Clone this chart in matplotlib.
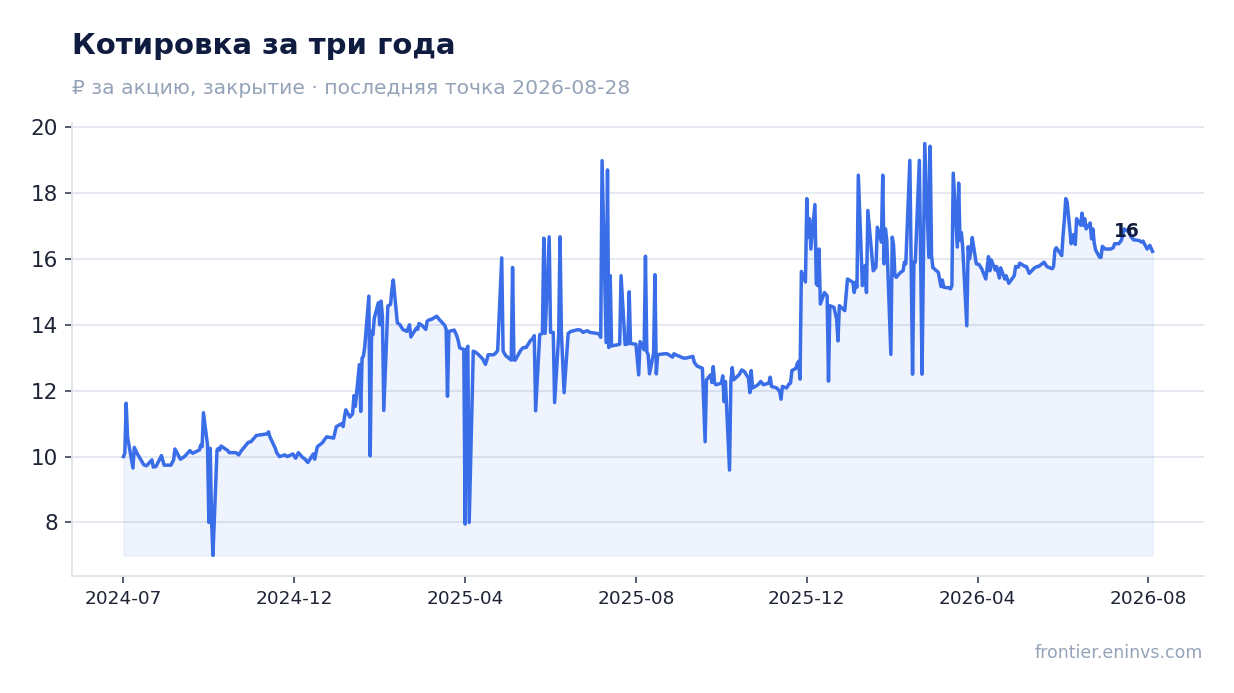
import matplotlib
matplotlib.use("Agg")
import matplotlib.pyplot as plt
import numpy as np
import pandas as pd

# ---- data ---------------------------------------------------------------
LAST_DATE = "2026-08-28"
N_TRADING_DAYS = 544
TICK_EVERY = 90

# trading-day number of each observation (0 = first session in the window)
day_idx = [
    0, 1, 2, 3, 5, 6, 8, 11, 13, 15,
    16, 18, 20, 22, 25, 27, 28, 30, 33, 35,
    37, 40, 41, 42, 43, 44, 45, 46, 47, 48,
    49, 50, 51, 52, 55, 56, 59, 61, 63, 66,
    68, 70, 73, 76, 77, 78, 80, 81, 83, 85,
    87, 89, 91, 93, 94, 96, 98, 100, 101, 103,
    105, 106, 108, 111, 113, 115, 116, 117, 118, 119,
    121, 122, 123, 124, 125, 126, 127, 128, 129, 130,
    131, 132, 133, 134, 135, 136, 137, 138, 139, 141,
    142, 143, 144, 146, 148, 149, 151, 152, 154, 155,
    156, 158, 159, 160, 162, 163, 165, 167, 169, 170,
    171, 172, 174, 176, 177, 178, 179, 180, 181, 182,
    183, 184, 186, 188, 189, 191, 192, 193, 195, 197,
    198, 199, 200, 202, 204, 205, 206, 207, 209, 211,
    213, 214, 216, 217, 218, 219, 221, 222, 223, 224,
    225, 227, 228, 229, 230, 231, 233, 234, 236, 239,
    241, 243, 244, 246, 249, 251, 252, 253, 254, 255,
    256, 257, 258, 260, 262, 263, 264, 266, 267, 268,
    270, 272, 273, 274, 275, 276, 277, 278, 279, 280,
    281, 282, 283, 285, 287, 289, 290, 293, 295, 297,
    300, 301, 303, 305, 307, 308, 309, 310, 311, 312,
    313, 315, 316, 317, 318, 319, 320, 321, 322, 324,
    326, 328, 329, 330, 331, 332, 334, 336, 338, 340,
    341, 342, 344, 346, 347, 348, 349, 351, 352, 353,
    354, 355, 356, 357, 358, 359, 360, 361, 362, 363,
    364, 365, 366, 367, 368, 369, 371, 372, 373, 374,
    376, 377, 378, 380, 382, 384, 385, 386, 387, 388,
    389, 391, 392, 393, 394, 395, 397, 398, 399, 400,
    401, 402, 403, 404, 405, 406, 407, 408, 409, 411,
    412, 413, 414, 415, 416, 417, 418, 419, 420, 421,
    422, 423, 424, 425, 426, 427, 428, 429, 431, 432,
    433, 435, 436, 437, 438, 439, 440, 441, 442, 443,
    444, 445, 446, 447, 448, 449, 451, 453, 454, 456,
    457, 458, 459, 460, 462, 463, 464, 465, 467, 469,
    470, 472, 473, 475, 476, 478, 480, 482, 483, 485,
    487, 489, 490, 491, 492, 494, 495, 496, 497, 498,
    499, 500, 501, 502, 503, 504, 505, 506, 507, 508,
    509, 510, 511, 512, 513, 514, 515, 516, 518, 520,
    522, 523, 524, 526, 528, 530, 531, 533, 535, 537,
    538, 539, 541, 543,
]

# closing price, RUB per share
close = [
    10.0, 10.1, 11.62, 10.6, 9.65, 10.28, 10.1, 9.75, 9.72, 9.9,
    9.68, 9.7, 10.03, 9.74, 9.74, 9.9, 10.23, 9.92, 10.0, 10.18,
    10.1, 10.2, 10.35, 10.3, 11.33, 10.35, 8.0, 10.25, 8.05, 7.0,
    10.2, 10.25, 10.2, 10.32, 10.18, 10.12, 10.12, 10.05, 10.18, 10.43,
    10.45, 10.64, 10.66, 10.69, 10.75, 10.6, 10.25, 10.12, 10.0, 10.05,
    10.0, 10.08, 9.95, 10.12, 9.98, 9.92, 9.82, 10.08, 9.92, 10.3,
    10.43, 10.5, 10.6, 10.56, 10.91, 11.0, 10.91, 11.2, 11.42, 11.2,
    11.3, 11.85, 11.52, 12.79, 11.37, 12.99, 13.05, 13.35, 14.87, 10.02,
    13.8, 13.7, 14.2, 14.67, 14.0, 14.72, 14.26, 11.4, 14.57, 14.62,
    15.08, 15.36, 14.06, 14.0, 13.86, 13.8, 14.0, 13.63, 13.9, 13.86,
    14.04, 13.99, 13.86, 14.11, 14.16, 14.16, 14.26, 14.16, 13.98, 13.86,
    11.83, 13.8, 13.84, 13.65, 13.5, 13.3, 13.25, 7.95, 13.25, 13.35,
    8.0, 13.2, 13.16, 13.09, 12.96, 12.8, 12.93, 13.09, 13.09, 13.16,
    13.23, 16.03, 13.2, 13.06, 12.93, 15.74, 12.93, 12.93, 13.23, 13.31,
    13.31, 13.51, 13.59, 13.67, 11.39, 13.7, 13.74, 16.63, 13.74, 16.67,
    13.77, 13.77, 11.64, 13.7, 16.67, 13.77, 11.94, 13.74, 13.8, 13.85,
    13.84, 13.77, 13.82, 13.77, 13.74, 13.72, 13.62, 18.98, 13.46, 18.7,
    13.31, 15.49, 13.36, 13.39, 13.41, 15.49, 13.4, 13.42, 15.0, 13.43,
    13.41, 12.48, 13.49, 13.24, 16.08, 13.19, 13.09, 12.51, 13.14, 15.52,
    12.51, 13.09, 13.1, 13.12, 13.12, 13.02, 13.12, 13.06, 12.99, 12.99,
    13.04, 12.86, 12.75, 12.68, 10.45, 12.33, 12.48, 12.25, 12.73, 12.23,
    12.18, 12.23, 12.45, 11.67, 12.28, 9.59, 12.28, 12.7, 12.33, 12.48,
    12.63, 12.58, 12.38, 11.94, 12.61, 12.08, 12.18, 12.28, 12.18, 12.23,
    12.41, 12.13, 12.08, 11.97, 11.74, 12.13, 12.08, 12.21, 12.23, 12.61,
    12.68, 12.83, 12.89, 12.35, 15.62, 15.3, 17.83, 16.66, 17.22, 16.3,
    17.65, 15.24, 15.19, 16.3, 14.63, 14.98, 14.88, 12.29, 14.58, 14.53,
    14.17, 13.51, 14.58, 14.43, 15.39, 15.29, 14.98, 15.29, 15.14, 18.54,
    15.19, 15.8, 14.98, 17.47, 16.1, 15.64, 15.75, 16.96, 16.51, 18.54,
    15.85, 16.91, 16.56, 13.1, 16.66, 16.41, 15.49, 15.44, 15.59, 15.64,
    15.9, 15.85, 18.99, 15.85, 12.5, 15.9, 15.9, 18.99, 15.9, 12.5,
    16.05, 19.5, 16.05, 19.42, 16.1, 15.73, 15.7, 15.59, 15.16, 15.36,
    15.14, 15.12, 15.09, 15.19, 18.6, 16.36, 18.3, 16.56, 16.8, 16.35,
    13.97, 16.37, 16.0, 16.25, 16.65, 15.85, 15.83, 15.7, 15.39, 16.07,
    15.64, 15.97, 15.66, 15.77, 15.42, 15.73, 15.39, 15.49, 15.26, 15.49,
    15.77, 15.75, 15.87, 15.77, 15.77, 15.56, 15.73, 15.77, 15.77, 15.9,
    15.77, 15.7, 15.77, 16.27, 16.34, 16.1, 16.71, 17.22, 17.83, 17.73,
    16.46, 16.71, 16.74, 16.44, 17.22, 17.02, 17.39, 17.02, 17.22, 16.91,
    17.09, 16.61, 16.91, 16.48, 16.27, 16.05, 16.05, 16.38, 16.3, 16.3,
    16.34, 16.46, 16.46, 16.56, 16.91, 16.81, 16.68, 16.58, 16.56, 16.51,
    16.54, 16.3, 16.41, 16.23,
]

TITLE = "Котировка за три года"
SUBTITLE = "₽ за акцию, закрытие · последняя точка {}"
SOURCE = "frontier.eninvs.com"

assert len(day_idx) == len(close)

# ---- build ----------------------------------------------------------------
sessions = pd.bdate_range(end=LAST_DATE, periods=N_TRADING_DAYS)
x = sessions[day_idx]
y = np.array(close)

LINE = "#3a6ee8"
INK = "#0f1c40"
MUTED = "#94a3b8"
GRID = "#e3e7ef"

fig = plt.figure(figsize=(12.34, 6.93), dpi=100)
fig.patch.set_facecolor("white")
ax = fig.add_axes([72 / 1234, 1 - 576 / 693, (1204 - 72) / 1234, (576 - 123) / 693])

ax.fill_between(x, y, y.min(), color=LINE, alpha=0.08, lw=1.0, zorder=1)
ax.plot(x, y, color=LINE, lw=2.5, solid_joinstyle="round", zorder=3)

ax.yaxis.grid(True, color=GRID, lw=1.3, zorder=0)
ax.set_axisbelow(True)
for side in ("top", "right"):
    ax.spines[side].set_visible(False)
for side in ("left", "bottom"):
    ax.spines[side].set_color("#e0e4ec")
    ax.spines[side].set_linewidth(1.3)

ticks = sessions[::TICK_EVERY]
ax.set_xticks(ticks)
ax.set_xticklabels([t.strftime("%Y-%m") for t in ticks])
ax.tick_params(axis="both", colors="#4b5163", length=5, width=1.3, labelcolor="#1e2436")
ax.tick_params(axis="x", labelsize=13.3, pad=5)
ax.tick_params(axis="y", labelsize=15.5, pad=5)

ax.annotate(f"{y[-1]:.0f}", (x[-1], y[-1]), xytext=(-9.5, 10.5), textcoords="offset points",
            ha="right", va="baseline", fontsize=13.5, fontweight="bold", color=INK, zorder=5)

fig.text(72 / 1234, 1 - 53.5 / 693, TITLE, fontsize=21, fontweight="bold", color=INK,
         ha="left", va="baseline")
fig.text(72 / 1234, 1 - 94 / 693, SUBTITLE.format(sessions[-1].strftime("%Y-%m-%d")),
         fontsize=14.6, color=MUTED, ha="left", va="baseline",
         family=["DejaVu Sans", "Noto Sans"])
fig.text(1203 / 1234, 1 - 658 / 693, SOURCE, fontsize=12.5, color=MUTED,
         ha="right", va="baseline")

fig.savefig("out.png", dpi=100, facecolor="white")
